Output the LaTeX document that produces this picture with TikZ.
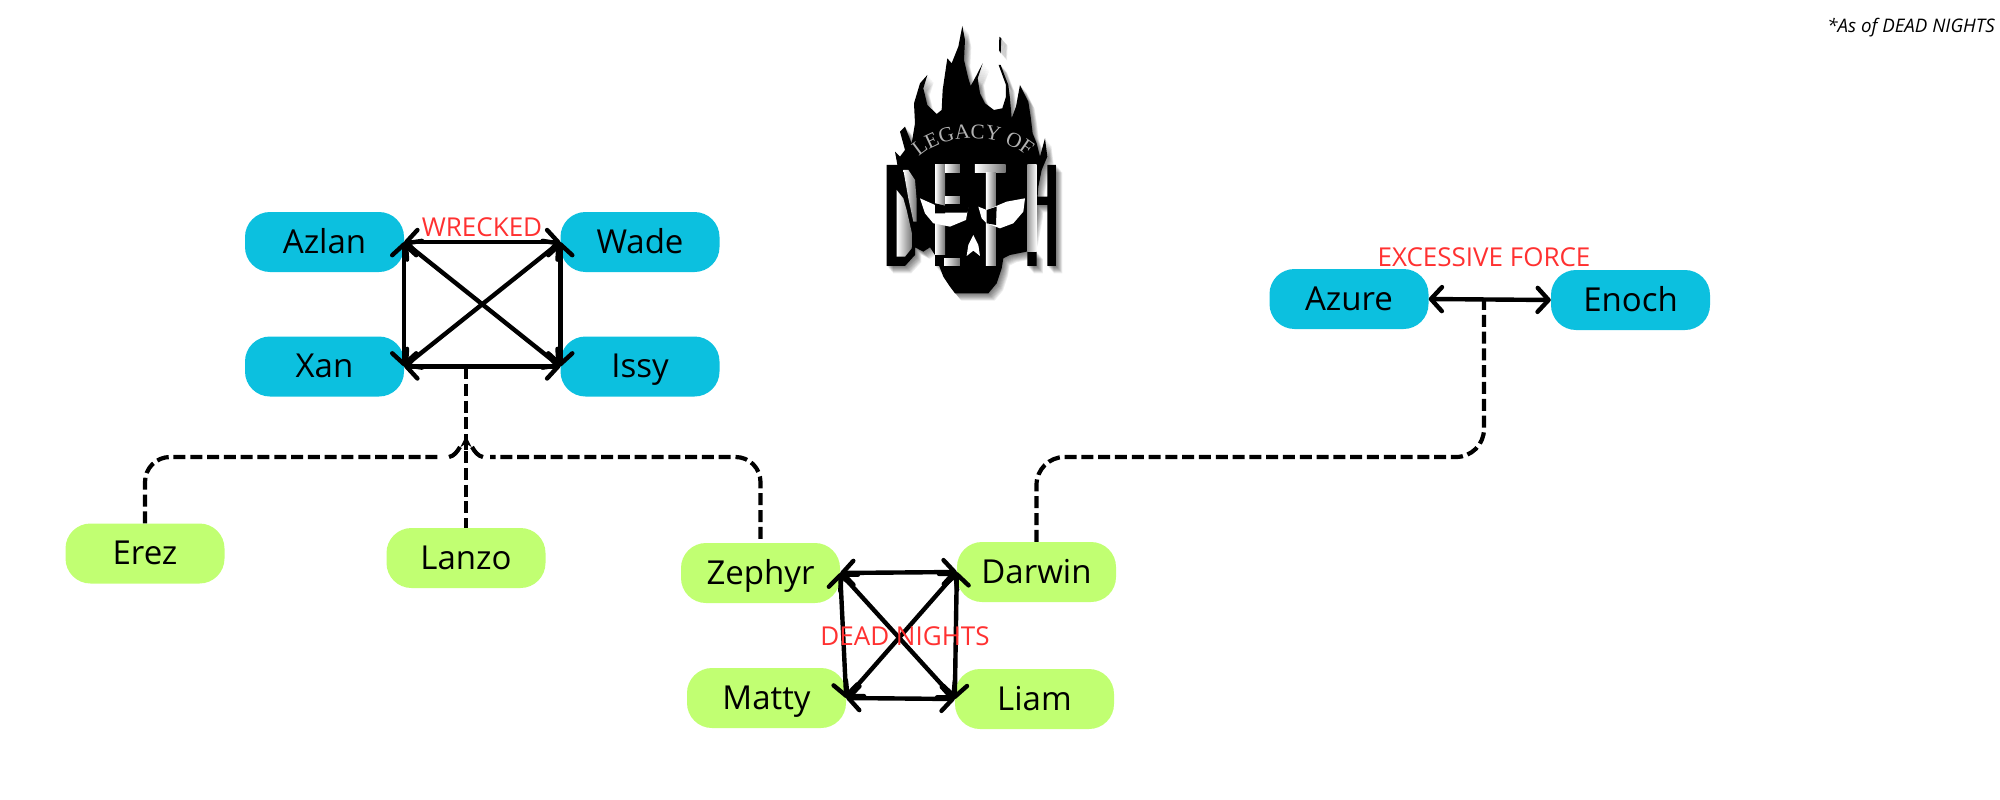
\documentclass[tikz,border=0pt]{standalone}
\usepackage{fontspec}
\setmainfont{Open Sans}
\usetikzlibrary{arrows.meta,decorations.text}
\definecolor{cblue}{HTML}{0CC0DF}
\definecolor{cgreen}{HTML}{C1FF72}
\definecolor{cred}{HTML}{FF3131}
\newfontfamily\logofont{Liberation Serif}
\newcommand\logosil{
 (367,48)--(375,90)--(372,150)--(385,205)--(392,228)--(410,195)--(428,160)--(413,205)--(420,250)--(435,280)--(462,300)--(487,295)--(498,260)--(498,225)--(476,165)--(482,165)--(505,225)--(510,265)--(515,325)--(528,290)--(540,225)--(565,275)--(572,320)--(578,370)--(590,400)--(600,440)--(615,385)--(622,440)--(605,480)--(595,530)--(590,600)--(575,680)--(560,725)--(510,735)--(490,745)--(485,775)--(470,820)--(445,850)--(345,850)--(330,830)--(310,800)--(285,735)--(270,712)--(250,725)--(225,712)--(195,600)--(175,480)--(165,425)--(180,440)--(195,420)--(180,365)--(195,350)--(215,400)--(225,340)--(222,280)--(240,220)--(262,195)--(250,235)--(262,285)--(290,312)--(305,300)--(308,240)--(322,145)--(335,160)--(355,110)--cycle
 (478,80)--(484,85)--(482,130)--(477,120)--cycle
 (140,465)--(195,465)--(225,495)--(225,735)--(195,768)--(140,768)--cycle
 (285,700)--(310,700)--(310,768)--(285,768)--cycle
 (562,725)--(590,725)--(590,768)--(562,768)--cycle
 (622,465)--(648,465)--(648,768)--(622,768)--cycle
 (590,560)--(622,560)--(622,585)--(590,585)--cycle
}
\tikzset{
 person/.style={rectangle,rounded corners=25pt,minimum width=159pt,minimum height=60pt,inner sep=0pt,font=\fontsize{33}{36}\selectfont,text height=29pt,text depth=7pt},
 legacy/.style={person,fill=cblue},
 fresh/.style={person,fill=cgreen},
 tag/.style={text=cred,font=\fontsize{26}{30}\selectfont,inner sep=0pt},
 note/.style={font=\fontsize{18.7}{22}\selectfont\itshape,inner sep=0pt},
 barb/.tip={Straight Barb[length=11pt,width=24pt,line width=4.4pt,round]},
 rel/.style={line width=4.4pt,barb-barb},
 link/.style={line width=4.2pt,dash pattern=on 12pt off 4.8pt},
 linkend/.style={line width=4.2pt},
 linktip/.style={line width=4.2pt,-{Stealth[length=11pt,width=11pt]}},
 glare/.style={left color=white,right color=black!55},
 glarer/.style={left color=black!40,right color=white},
}
\begin{document}
\begin{tikzpicture}[x=1pt,y=-1pt]
\useasboundingbox (0,0) rectangle (2000,800);
\node[legacy] (azlan) at (324.5,242) {Azlan};
\node[legacy] (wade) at (640,242) {Wade};
\node[legacy] (xan) at (324.5,366.5) {Xan};
\node[legacy] (issy) at (640,366.5) {Issy};
\node[legacy] (azure) at (1349,299) {Azure};
\node[legacy] (enoch) at (1630.5,300) {Enoch};
\node[fresh] (erez) at (145,553.5) {Erez};
\node[fresh] (lanzo) at (466,558) {Lanzo};
\node[fresh] (zephyr) at (760.5,573) {Zephyr};
\node[fresh] (darwin) at (1036.5,572) {Darwin};
\node[fresh] (matty) at (766.5,698) {Matty};
\node[fresh] (liam) at (1034.5,699) {Liam};
\node[tag] (wrecked) at (482,227) {WRECKED};
\node[tag] (excess) at (1484,257) {EXCESSIVE FORCE};
\node[note] (asof) at (1911,28) {*As of DEAD NIGHTS};
% Wrecked
\draw[rel] (azlan.east) -- (wade.west);
\draw[rel] (xan.east) -- (issy.west);
\draw[rel] (azlan.east) -- (xan.east);
\draw[rel] (wade.west) -- (issy.west);
\draw[rel] (azlan.east) -- (issy.west);
\draw[rel] (wade.west) -- (xan.east);
% Dead nights
\draw[rel] (zephyr.east) -- (darwin.west);
\draw[rel] (matty.east) -- (liam.west);
\draw[rel] (zephyr.east) -- (matty.east);
\draw[rel] (darwin.west) -- (liam.west);
\draw[rel] (zephyr.east) -- (liam.west);
\draw[rel] (darwin.west) -- (matty.east);
\node[tag] (dead) at (905,636) {DEAD NIGHTS};
% Excessive force
\draw[rel] (azure.east) -- (enoch.west);
\coordinate (wx) at (466,367);
\coordinate (wxneck) at (466,450);
\coordinate (wxtip) at (466,436);
\coordinate (ae) at (1484,300);
\coordinate (jl) at (442,457);
\coordinate (jlc) at (449,457);
\coordinate (jle) at (460,447);
\coordinate (jr) at (490,457);
\coordinate (jrc) at (483,457);
\coordinate (jre) at (472,447);
\draw[link] (wx) -- (lanzo.north);
\draw[link,rounded corners=25pt] (erez.north) -- (145,457) -- (jl);
\draw[linkend] (jlc) .. controls (454,456) and (457,452) .. (jle);
\draw[link,rounded corners=25pt] (zephyr.north) ++(0,-4) -- (760.5,457) -- (jr);
\draw[linkend] (jrc) .. controls (478,456) and (475,452) .. (jre);
\draw[linktip] (wxneck) -- (wxtip);
\draw[link,rounded corners=28pt] (darwin.north) -- (1036.5,457) -- (1484,457) -- (ae);
% Logo
\begin{scope}[shift={(840,10)},x=.3333pt,y=-.3333pt]
 \foreach \d in {1,3,...,19}{
  \fill[black,opacity=.07,shift={(\d,\d*1.15)}] \logosil;
 }
 \fill[black] \logosil;
 % D counter
 \shade[glare] (170,540)--(170,740)--(195,740)--(215,715)--(218,680)--(200,600)--(190,565)--cycle;
 \shade[glare] (190,480)--(205,480)--(225,510)--(230,570)--(230,635)--(220,635)--(205,565)--cycle;
 % E
 \shade[glare] (285,465)--(315,465)--(315,735)--(285,735)--cycle;
 \shade[glare] (315,465)--(360,465)--(360,487)--(315,487)--cycle;
 \shade[glare] (315,560)--(360,560)--(360,582)--(315,582)--cycle;
 \shade[glare] (312,745)--(360,745)--(360,766)--(312,766)--cycle;
 % T
 \shade[glare] (405,465)--(497,465)--(497,487)--(405,487)--cycle;
 \shade[glare] (438,487)--(468,487)--(468,768)--(438,768)--cycle;
 % H
 \shade[glarer] (562,465)--(590,465)--(590,725)--(562,725)--cycle;
 % eyes
 \fill[white] (240,565)--(285,585)--(345,590)--(385,590)--(378,630)--(330,650)--(280,640)--(255,610)--cycle;
 \fill[black] (285,580)--(315,587)--(315,610)--(285,610)--cycle;
 \fill[black] (315,585)--(388,585)--(382,608)--(315,608)--cycle;
 \fill[white] (415,590)--(440,600)--(500,575)--(555,565)--(550,605)--(520,640)--(480,655)--(440,640)--(425,625)--cycle;
 \fill[black] (440,600)--(470,590)--(468,645)--(440,640)--cycle;
 % nose
 \fill[white] (400,675)--(415,705)--(420,738)--(400,722)--(380,738)--(385,705)--cycle;
 % name
 \path[decorate,decoration={text along path,text align=center,text={|\logofont\fontsize{21}{22}\selectfont\color{black!30}|LEGACY OF}}] (228,450) .. controls (300,368) and (480,360) .. (572,448);
\end{scope}
\end{tikzpicture}
\end{document}
